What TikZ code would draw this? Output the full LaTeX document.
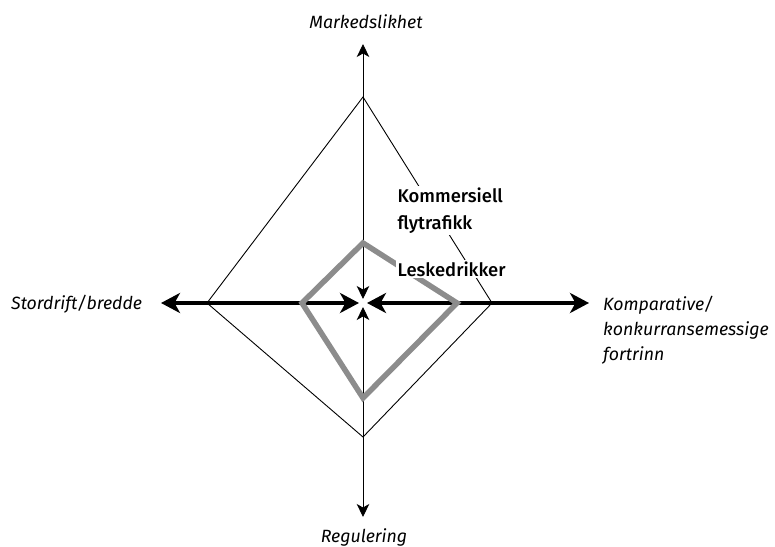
\documentclass[tikz,border=0pt]{standalone}
\usepackage{fontspec}
\setmainfont{Fira Sans}[BoldFont={Fira Sans Medium}]
\usetikzlibrary{arrows.meta}
\begin{document}
\begin{tikzpicture}[x=1bp,y=-1bp,
  thinline/.style={line width=0.9bp,black},
  thickline/.style={line width=3.8bp,black},
  grayline/.style={line width=5.5bp,color=graycol,line join=miter},
  bigtip/.tip={Stealth[length=19bp,width=20bp,inset=5.5bp]},
  smalltip/.tip={Stealth[length=13bp,width=12.5bp,inset=3.5bp]},
  axislabel/.style={font=\fontsize{17.8}{25}\selectfont\itshape,inner sep=0pt},
  itemlabel/.style={font=\fontsize{18.5}{27}\selectfont\bfseries,fill=white,inner sep=1.5bp,align=left},
]
\definecolor{graycol}{RGB}{140,140,140}
\useasboundingbox (0,0) rectangle (775,547);
% key points
\coordinate (c) at (363,303);
\coordinate (T) at (363,44);
\coordinate (B) at (363,517);
\coordinate (L) at (161,303);
\coordinate (R) at (589,303);
\coordinate (cT) at (363,299);
\coordinate (cB) at (363,307);
\coordinate (cL) at (359,303);
\coordinate (cR) at (367,303);
\coordinate (dT) at (363,97);
\coordinate (dL) at (207,303);
\coordinate (dR) at (492,303);
\coordinate (dB) at (363,437);
\coordinate (gT) at (363,243);
\coordinate (gL) at (302,303);
\coordinate (gR) at (457,303);
\coordinate (gB) at (363,398);
% thin diamond
\draw[thinline,line join=miter] (dT) -- (dR) -- (dB) -- (dL) -- cycle;
% axes
\draw[thinline,{smalltip}-{smalltip}] (T) -- (cT);
\draw[thinline,{smalltip}-{smalltip}] (B) -- (cB);
\draw[thickline,{bigtip}-{bigtip}] (L) -- (cL);
\draw[thickline,{bigtip}-{bigtip}] (R) -- (cR);
% gray diamond
\draw[grayline] (gT) -- (gR) -- (gB) -- (gL) -- cycle;
% item labels
\node[itemlabel,anchor=north west] (kom) at (396,186) {Kommersiell\\flytrafikk};
\node[itemlabel,anchor=north west] (les) at (396,260) {Leskedrikker};
% axis labels
\node[axislabel] (mark) at (366,22) {Markedslikhet};
\node[axislabel] (reg) at (364,537) {Regulering};
\node[axislabel,anchor=west] (stor) at (11,304) {Stordrift/bredde};
\node[axislabel,anchor=north west,align=left] (komp) at (603,296) {Komparative/\\konkurransemessige\\fortrinn};
\end{tikzpicture}
\end{document}
